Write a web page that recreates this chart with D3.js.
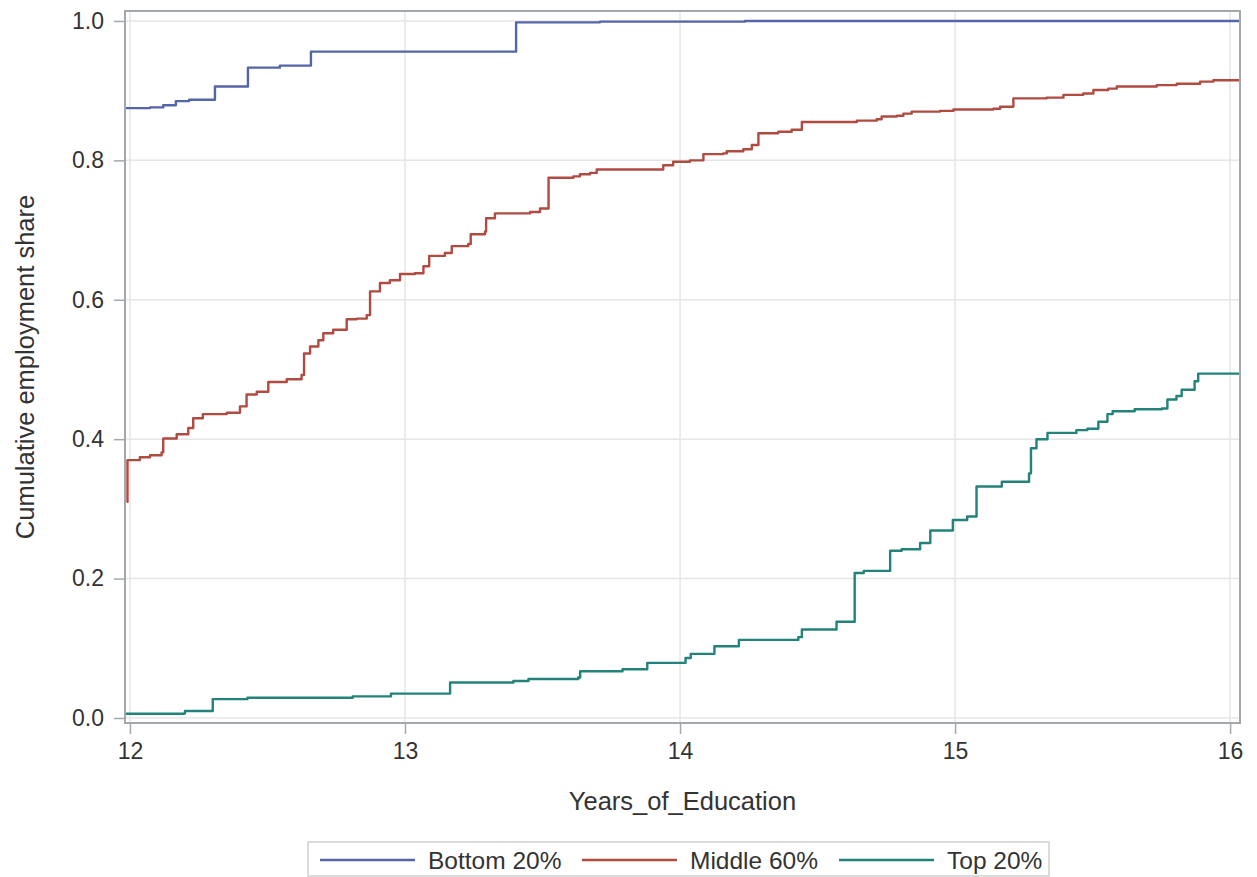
<!DOCTYPE html>
<html>
<head>
    <title>Cumulative employment share by years of education</title>
    <script src="https://d3js.org/d3.v7.min.js"></script>
    <style>
        body { margin: 0; background: #fff; }
        text { font-family: "Liberation Sans", Arial, sans-serif; fill: #333; }
    </style>
</head>
<body>
    <div id="chart"></div>

    <script>
        // series labels and colours
        const seriesNames = ["Bottom 20%", "Middle 60%", "Top 20%"];
        const seriesColors = ["#5565a9", "#b04b41", "#23827a"];

        // Bottom 20%
        const bottomYears = [11.982, 12.073, 12.121, 12.167, 12.215, 12.309, 12.429, 12.545, 12.658, 13.404, 13.709, 14.236, 16.036];
        const bottomShare = [0.875, 0.876, 0.879, 0.885, 0.887, 0.906, 0.933, 0.936, 0.956, 0.998, 0.999, 1.000, 1.000];

        // Middle 60%
        const middleYears = [11.988, 11.991, 12.036, 12.073, 12.115, 12.121, 12.170, 12.212, 12.230, 12.265, 12.352, 12.400, 12.424, 12.461, 12.503,
            12.570, 12.624, 12.633, 12.655, 12.685, 12.703, 12.739, 12.788, 12.824, 12.861, 12.873, 12.909, 12.945, 12.982, 13.036,
            13.067, 13.088, 13.145, 13.170, 13.230, 13.239, 13.291, 13.295, 13.327, 13.455, 13.491, 13.522, 13.612, 13.636, 13.673,
            13.697, 13.939, 13.975, 14.036, 14.085, 14.157, 14.170, 14.230, 14.261, 14.285, 14.357, 14.406, 14.443, 14.643, 14.715,
            14.733, 14.788, 14.812, 14.842, 14.945, 14.994, 15.139, 15.164, 15.212, 15.333, 15.394, 15.466, 15.503, 15.557, 15.588,
            15.733, 15.806, 15.891, 15.939, 16.036];
        const middleShare = [0.310, 0.370, 0.374, 0.377, 0.381, 0.401, 0.407, 0.416, 0.430, 0.436, 0.438, 0.447, 0.464, 0.468, 0.482,
            0.486, 0.492, 0.523, 0.533, 0.542, 0.552, 0.557, 0.572, 0.573, 0.578, 0.612, 0.624, 0.628, 0.637, 0.638,
            0.648, 0.663, 0.667, 0.677, 0.680, 0.694, 0.698, 0.717, 0.724, 0.726, 0.731, 0.775, 0.777, 0.780, 0.782,
            0.787, 0.793, 0.798, 0.800, 0.809, 0.810, 0.813, 0.816, 0.822, 0.839, 0.841, 0.844, 0.855, 0.857, 0.859,
            0.863, 0.864, 0.867, 0.870, 0.871, 0.873, 0.874, 0.877, 0.889, 0.890, 0.894, 0.896, 0.901, 0.903, 0.906,
            0.908, 0.910, 0.913, 0.915, 0.915];

        // Top 20%
        const topYears = [11.982, 12.198, 12.200, 12.301, 12.427, 12.810, 12.949, 13.164, 13.394, 13.449, 13.630, 13.637, 13.791, 13.881,
            14.020, 14.039, 14.125, 14.214, 14.430, 14.443, 14.569, 14.635, 14.668, 14.764, 14.806, 14.873, 14.910, 14.992, 15.044,
            15.078, 15.170, 15.269, 15.276, 15.296, 15.336, 15.441, 15.481, 15.521, 15.554, 15.573, 15.653, 15.752, 15.772, 15.805,
            15.824, 15.871, 15.884, 16.036];
        const topShare = [0.006, 0.007, 0.010, 0.027, 0.029, 0.031, 0.035, 0.051, 0.053, 0.056, 0.058, 0.067, 0.070, 0.079,
            0.086, 0.092, 0.103, 0.112, 0.116, 0.127, 0.138, 0.208, 0.211, 0.240, 0.242, 0.251, 0.269, 0.284, 0.289,
            0.332, 0.339, 0.351, 0.387, 0.400, 0.409, 0.413, 0.415, 0.425, 0.436, 0.440, 0.443, 0.444, 0.457, 0.462,
            0.471, 0.483, 0.494, 0.494];

        const xTicks = [12, 13, 14, 15, 16];
        const yTicks = [0, 0.2, 0.4, 0.6, 0.8, 1.0];

        const series = [
            {name: seriesNames[0], color: seriesColors[0], values: bottomYears.map((d, i) => [d, bottomShare[i]])},
            {name: seriesNames[1], color: seriesColors[1], values: middleYears.map((d, i) => [d, middleShare[i]])},
            {name: seriesNames[2], color: seriesColors[2], values: topYears.map((d, i) => [d, topShare[i]])}
        ];

        const W = 1257, H = 877;
        const pLeft = 125, pRight = 1240, pTop = 11, pBottom = 723;

        const svg = d3.select("#chart").append("svg")
            .attr("width", W)
            .attr("height", H);

        const x = d3.scaleLinear().domain([11.982, 16.036]).range([pLeft, pRight]);
        const y = d3.scaleLinear().domain([-0.0072, 1.0143]).range([pBottom, pTop]);

        // grid
        svg.append("g").selectAll("line")
            .data(xTicks)
            .enter().append("line")
            .attr("x1", d => x(d)).attr("x2", d => x(d))
            .attr("y1", pTop).attr("y2", pBottom)
            .attr("stroke", "#e6e6e6").attr("stroke-width", 1.5);
        svg.append("g").selectAll("line")
            .data(yTicks)
            .enter().append("line")
            .attr("x1", pLeft).attr("x2", pRight)
            .attr("y1", d => y(d)).attr("y2", d => y(d))
            .attr("stroke", "#e6e6e6").attr("stroke-width", 1.5);

        svg.append("clipPath").attr("id", "clip")
            .append("rect")
            .attr("x", pLeft).attr("y", pTop)
            .attr("width", pRight - pLeft).attr("height", pBottom - pTop);

        const line = d3.line()
            .x(d => x(d[0]))
            .y(d => y(d[1]))
            .curve(d3.curveStepAfter);

        svg.append("g").attr("clip-path", "url(#clip)")
            .selectAll("path")
            .data(series)
            .enter().append("path")
            .attr("fill", "none")
            .attr("stroke", d => d.color)
            .attr("stroke-width", 2.4)
            .attr("stroke-linejoin", "round")
            .attr("d", d => line(d.values));

        // axes
        const xAxis = svg.append("g")
            .attr("transform", "translate(0," + pBottom + ")")
            .call(d3.axisBottom(x).tickValues(xTicks).tickFormat(d3.format("d")).tickSize(11).tickPadding(9));
        const yAxis = svg.append("g")
            .attr("transform", "translate(" + pLeft + ",0)")
            .call(d3.axisLeft(y).tickValues(yTicks).tickFormat(d3.format(".1f")).tickSize(11).tickPadding(10));

        [xAxis, yAxis].forEach(a => {
            a.select(".domain").remove();
            a.selectAll(".tick line").attr("stroke", "#a3a8ad").attr("stroke-width", 1.5);
            a.selectAll(".tick text").style("font-size", "23px").attr("fill", "#333");
        });

        // frame
        svg.append("rect")
            .attr("x", pLeft).attr("y", pTop)
            .attr("width", pRight - pLeft).attr("height", pBottom - pTop)
            .attr("fill", "none")
            .attr("stroke", "#a3a8ad")
            .attr("stroke-width", 2);

        // axis titles
        svg.append("text")
            .attr("x", (pLeft + pRight) / 2)
            .attr("y", 810)
            .attr("text-anchor", "middle")
            .style("font-size", "25.5px")
            .text("Years_of_Education");

        svg.append("text")
            .attr("transform", "translate(34," + (pTop + pBottom) / 2 + ") rotate(-90)")
            .attr("text-anchor", "middle")
            .style("font-size", "25.5px")
            .text("Cumulative employment share");

        // legend
        const legend = svg.append("g");
        legend.append("rect")
            .attr("x", 308).attr("y", 842)
            .attr("width", 741).attr("height", 34)
            .attr("fill", "#fff")
            .attr("stroke", "#d0d0d0")
            .attr("stroke-width", 1.5);

        const legendX = [320, 582, 839];
        const item = legend.selectAll("g")
            .data(series)
            .enter().append("g")
            .attr("transform", (d, i) => "translate(" + legendX[i] + ",860)");
        item.append("line")
            .attr("x1", 0).attr("x2", 95)
            .attr("stroke", d => d.color)
            .attr("stroke-width", 2.4);
        item.append("text")
            .attr("x", 108)
            .attr("y", 8.5)
            .style("font-size", "24.5px")
            .text(d => d.name);
    </script>
</body>
</html>
